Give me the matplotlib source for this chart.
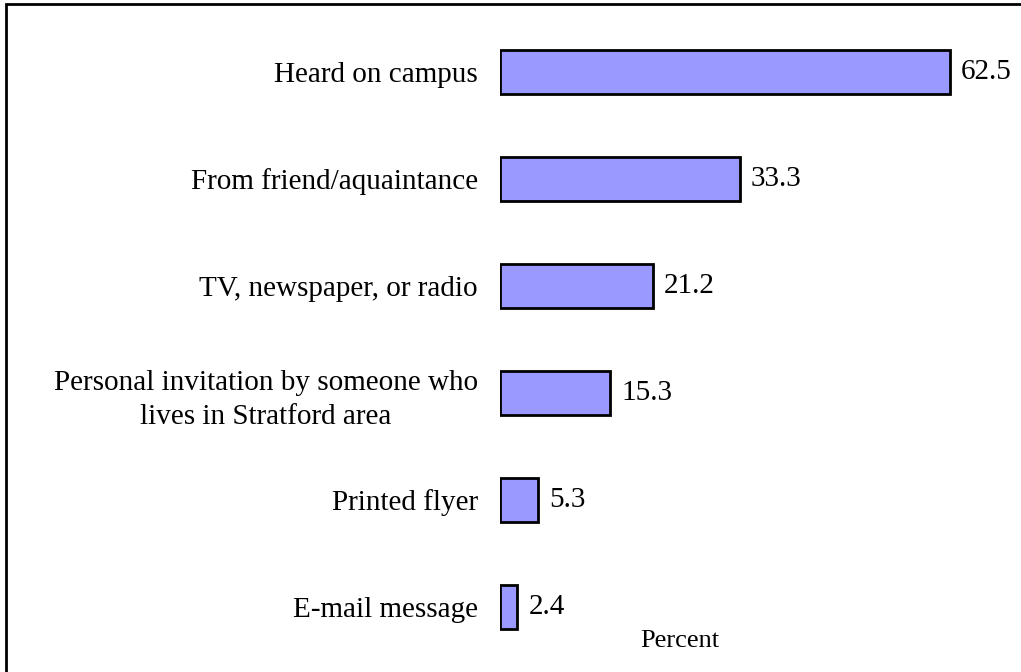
import matplotlib.pyplot as plt
from matplotlib.patches import Rectangle

categories = ['Heard on campus',
              'From friend/aquaintance',
              'TV, newspaper, or radio',
              'Personal invitation by someone who\nlives in Stratford area',
              'Printed flyer',
              'E-mail message']
percent = [62.5, 33.3, 21.2, 15.3, 5.3, 2.4]

plt.rcParams['font.family'] = ['Liberation Serif', 'DejaVu Serif']

fig = plt.figure(figsize=(10.21, 6.72), dpi=100)
ax = fig.add_axes([500 / 1021, 11.5 / 672, 521 / 1021, 642 / 672])

pos = list(range(len(categories)))
bars = ax.barh(pos, percent, height=0.41, color='#9999FF',
               edgecolor='black', linewidth=2)
ax.bar_label(bars, labels=['%.1f' % v for v in percent], padding=8, fontsize=21)

ax.set_yticks(pos)
ax.set_yticklabels(categories, fontsize=21, multialignment='center',
                   linespacing=1.4)
ax.tick_params(axis='y', length=0, pad=16)
ax.set_xticks([])
ax.set_xlim(0, 521 / 7.2)
ax.set_ylim(5.5, -0.5)
for s in ax.spines.values():
    s.set_visible(False)

ax.set_xlabel('Percent', fontsize=19, va='center')
ax.xaxis.set_label_coords(180 / 521, 0.03)

# outer frame (cropped at right and bottom in the original)
fig.patches.append(Rectangle((6 / 1021, -0.1), 1.2, (668 / 672) + 0.1,
                             transform=fig.transFigure, fill=False,
                             edgecolor='black', linewidth=2))

fig.savefig('out.png', dpi=100)
